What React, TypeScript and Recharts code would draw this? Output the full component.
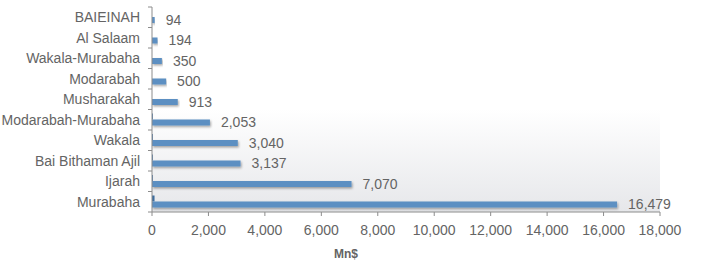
import { BarChart, Bar, XAxis, YAxis, LabelList, ReferenceArea } from "recharts";

const categories = [
  "BAIEINAH",
  "Al Salaam",
  "Wakala-Murabaha",
  "Modarabah",
  "Musharakah",
  "Modarabah-Murabaha",
  "Wakala",
  "Bai Bithaman Ajil",
  "Ijarah",
  "Murabaha",
];
const amounts = [94, 194, 350, 500, 913, 2053, 3040, 3137, 7070, 16479];
// tiny second series, barely visible next to the axis
const minor = [0, 0, 0, 0, 0, 30, 30, 30, 30, 90];
const xTicks = [0, 2000, 4000, 6000, 8000, 10000, 12000, 14000, 16000, 18000];

const data = categories.map((name, i) => ({ name, value: amounts[i], minor: minor[i] }));

const W = 703;
const H = 268;
const TOP = 7;
const X_AXIS_H = 48;
const BOTTOM = 8;
const AXIS_X = 152;
const BAND = (H - TOP - X_AXIS_H - BOTTOM) / categories.length;
const FONT = "'Liberation Sans', Arial, sans-serif";
const TEXT = "#646464";
const LINE = "#8c8c8c";
const FS = 14;

const fmt = (v: number) => v.toLocaleString("en-US");

function CategoryTick(props: any) {
  const { y, payload, index } = props;
  return (
    <g>
      <text x={AXIS_X - 12} y={y} dy={5} textAnchor="end" fill={TEXT} fontSize={FS} fontFamily={FONT}>
        {payload.value}
      </text>
      <line x1={AXIS_X - 4} x2={AXIS_X} y1={y + BAND / 2} y2={y + BAND / 2} stroke={LINE} />
      {index === 0 && <line x1={AXIS_X - 4} x2={AXIS_X} y1={y - BAND / 2} y2={y - BAND / 2} stroke={LINE} />}
    </g>
  );
}

export default function App() {
  return (
    <div style={{ position: "absolute", left: 0, top: 0, width: W, height: H, background: "#fff" }}>
      <BarChart
        width={W}
        height={H}
        data={data}
        layout="vertical"
        margin={{ top: TOP, right: 43, bottom: BOTTOM, left: 0 }}
        barGap={0}
        barCategoryGap={0}
      >
        <defs>
          <linearGradient id="bgGrad" x1="0" y1="0" x2="0" y2="1">
            <stop offset="0%" stopColor="#ffffff" />
            <stop offset="100%" stopColor="#e6e7ea" />
          </linearGradient>
          <filter id="barShadow" x="-5%" y="-50%" width="110%" height="250%">
            <feDropShadow dx="1" dy="1.5" stdDeviation="0.8" floodColor="#000" floodOpacity="0.35" />
          </filter>
        </defs>
        <ReferenceArea
          y1="Modarabah-Murabaha"
          y2="Murabaha"
          x1={0}
          x2={18000}
          fill="url(#bgGrad)"
          fillOpacity={1}
          stroke="none"
        />
        <XAxis
          type="number"
          domain={[0, 18000]}
          ticks={xTicks}
          tickFormatter={fmt}
          height={X_AXIS_H}
          stroke={LINE}
          tickSize={4}
          tickMargin={9}
          tick={{ fill: TEXT, fontSize: FS, fontFamily: FONT }}
          label={{
            value: "Mn$",
            position: "insideBottom",
            offset: 2,
            dx: -60,
            fill: TEXT,
            fontSize: 12,
            fontWeight: "bold",
            fontFamily: FONT,
          }}
        />
        <YAxis
          type="category"
          dataKey="name"
          width={AXIS_X}
          stroke={LINE}
          tickLine={false}
          interval={0}
          tick={<CategoryTick />}
        />
        <Bar dataKey="minor" fill="#3d6d9f" barSize={6} isAnimationActive={false} />
        <Bar dataKey="value" fill="#5b8fc2" barSize={6} filter="url(#barShadow)" isAnimationActive={false}>
          <LabelList
            dataKey="value"
            position="right"
            offset={11}
            formatter={(v: any) => fmt(Number(v))}
            fill={TEXT}
            fontSize={FS}
            fontFamily={FONT}
          />
        </Bar>
      </BarChart>
    </div>
  );
}
